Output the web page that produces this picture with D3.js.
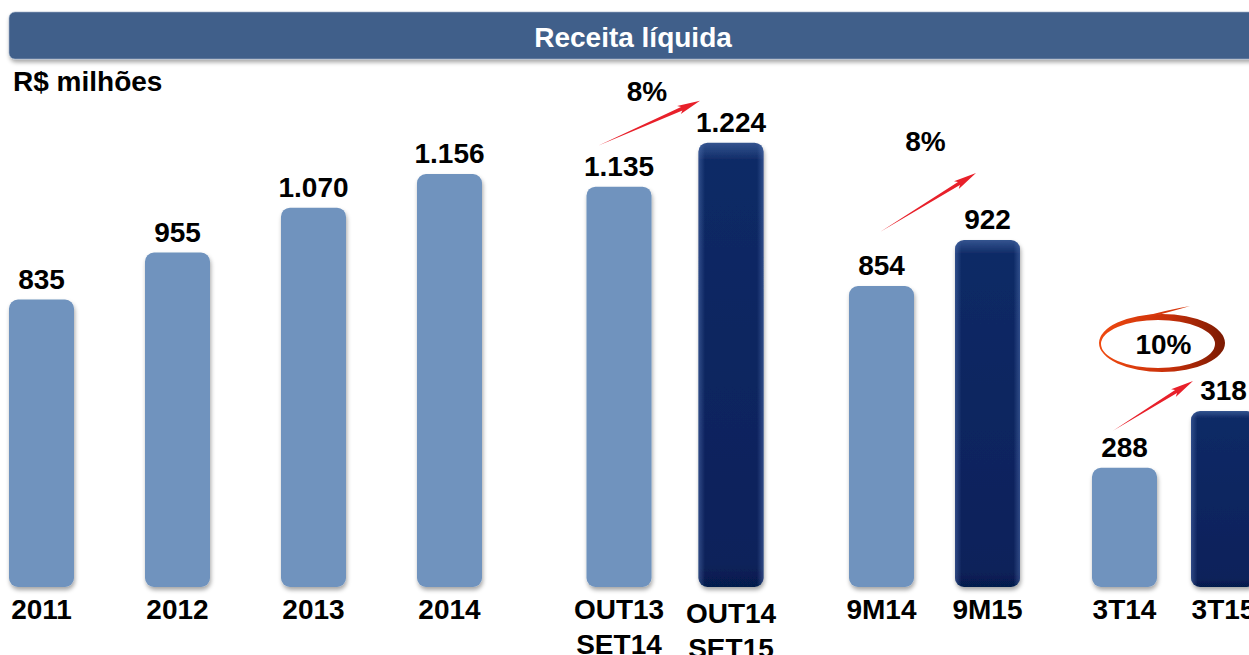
<!DOCTYPE html>
<html>
<head>
<meta charset="utf-8">
<script src="https://cdn.jsdelivr.net/npm/d3@7"></script>
<style>
  html, body { margin: 0; padding: 0; background: #fff; overflow: hidden; }
  text { font-family: "Liberation Sans", Arial, sans-serif; font-weight: bold; }
</style>
</head>
<body>
<div id="chart"></div>
<script>
// data
var annualCats = ["2011", "2012", "2013", "2014"];
var annualVals = [835, 955, 1070, 1156];

var ltmCats = ["OUT13|SET14", "OUT14|SET15"];
var ltmVals = [1135, 1224];

var ytdCats = ["9M14", "9M15"];
var ytdVals = [854, 922];

var qtrCats = ["3T14", "3T15"];
var qtrVals = [288, 318];

var growthLabels = [null, "8%", "8%", "10%"];

var width = 1249,
    height = 655,
    baseline = 587,
    barWidth = 65,
    light = "#6F93BE";

var fmt = d3.formatLocale({decimal: ",", thousands: ".", grouping: [3], currency: ["R$ ", ""]}).format(",d");

// each panel has its own (non zero based) value axis, like the original slide
var panels = [
  {cats: annualCats, vals: annualVals, xr: [41.5, 449.5], dom: [100, 1156], top: 174},
  {cats: ltmCats, vals: ltmVals, xr: [619, 731], dom: [325, 1224], top: 142.7,
   arrow: [-21, -41, -31, -42], pct: [647, 101]},
  {cats: ytdCats, vals: ytdVals, xr: [881.5, 987.5], dom: [409, 922], top: 240,
   arrow: [-1.5, -54, -11.5, -67], pct: [925.5, 151]},
  {cats: qtrCats, vals: qtrVals, xr: [1124.5, 1223.5], dom: [225, 318], top: 411,
   arrow: [-11.5, -37, -30.5, -30], pct: [1163.5, 354], ring: true}
];
var dividers = [525, 806, 1054];

var svg = d3.select("#chart").append("svg")
    .attr("width", width)
    .attr("height", height);

var defs = svg.append("defs");

var shadow = defs.append("filter").attr("id", "shadow")
    .attr("x", "-20%").attr("y", "-20%").attr("width", "140%").attr("height", "140%");
shadow.append("feDropShadow")
    .attr("dx", 1).attr("dy", 3).attr("stdDeviation", 2)
    .attr("flood-color", "#000").attr("flood-opacity", 0.35);

var lineShadow = defs.append("filter").attr("id", "lineShadow")
    .attr("x", "-200%").attr("width", "500%");
lineShadow.append("feDropShadow")
    .attr("dx", 2).attr("dy", 1).attr("stdDeviation", 1)
    .attr("flood-color", "#000").attr("flood-opacity", 0.25);

var darkV = defs.append("linearGradient").attr("id", "darkV")
    .attr("x1", 0).attr("y1", 0).attr("x2", 0).attr("y2", 1);
darkV.append("stop").attr("offset", "0%").attr("stop-color", "#34548F");
darkV.append("stop").attr("offset", "4%").attr("stop-color", "#0F2A66");
darkV.append("stop").attr("offset", "95%").attr("stop-color", "#08215A");
darkV.append("stop").attr("offset", "100%").attr("stop-color", "#061C4C");

var darkH = defs.append("linearGradient").attr("id", "darkH")
    .attr("x1", 0).attr("y1", 0).attr("x2", 1).attr("y2", 0);
darkH.append("stop").attr("offset", "0%").attr("stop-color", "#5A7AB8").attr("stop-opacity", 0.45);
darkH.append("stop").attr("offset", "10%").attr("stop-color", "#5A7AB8").attr("stop-opacity", 0);
darkH.append("stop").attr("offset", "90%").attr("stop-color", "#5A7AB8").attr("stop-opacity", 0);
darkH.append("stop").attr("offset", "100%").attr("stop-color", "#5A7AB8").attr("stop-opacity", 0.45);

var ringGrad = defs.append("linearGradient").attr("id", "ringGrad")
    .attr("x1", 0).attr("y1", 0).attr("x2", 1).attr("y2", 0);
ringGrad.append("stop").attr("offset", "0%").attr("stop-color", "#F04A10");
ringGrad.append("stop").attr("offset", "55%").attr("stop-color", "#C8300A");
ringGrad.append("stop").attr("offset", "100%").attr("stop-color", "#7A1A02");

// title bar
svg.append("rect")
    .attr("x", 9).attr("y", 12)
    .attr("width", 1262).attr("height", 47)
    .attr("rx", 6)
    .attr("fill", "#3F5F8A")
    .attr("stroke", "#9DB0C8").attr("stroke-width", 0.6)
    .attr("filter", "url(#shadow)");

svg.append("text")
    .attr("x", 633).attr("y", 47)
    .attr("text-anchor", "middle")
    .attr("fill", "#fff")
    .style("font-size", "28px")
    .text("Receita líquida");

svg.append("text")
    .attr("x", 13).attr("y", 91)
    .attr("fill", "#000")
    .style("font-size", "28px")
    .text("R$ milhões");

// dashed dividers between panels
svg.selectAll(".divider")
    .data(dividers)
    .enter().append("line")
    .attr("class", "divider")
    .attr("x1", function (d) { return d; })
    .attr("x2", function (d) { return d; })
    .attr("y1", 99).attr("y2", 622)
    .attr("stroke", "#2B2B9E")
    .attr("stroke-width", 1.6)
    .attr("stroke-dasharray", "5,3")
    .attr("filter", "url(#lineShadow)");

function arrowPath(x1, y1, x2, y2) {
    var dx = x2 - x1, dy = y2 - y1,
        L = Math.sqrt(dx * dx + dy * dy),
        ux = dx / L, uy = dy / L,
        nx = -uy, ny = ux,
        hb = L - 20, sw = 1.8, hw = 4.5;
    var p = function (t, w) { return [x1 + ux * t + nx * w, y1 + uy * t + ny * w]; };
    var pts = [p(0, 0), p(hb, sw), p(hb - 3, hw), [x2, y2], p(hb - 3, -hw), p(hb, -sw)];
    return "M" + pts.map(function (q) { return q[0].toFixed(1) + "," + q[1].toFixed(1); }).join("L") + "Z";
}

// closed ellipse as a path, reversed direction for the hole
function ell(ex, ey, rx, ry, rev) {
    var sw = rev ? 0 : 1;
    return "M" + (ex - rx) + "," + ey +
        "A" + rx + "," + ry + " 0 1 " + sw + " " + (ex + rx) + "," + ey +
        "A" + rx + "," + ry + " 0 1 " + sw + " " + (ex - rx) + "," + ey + "Z";
}

panels.forEach(function (pn, pi) {
    var x = d3.scalePoint().domain(pn.cats).range(pn.xr);
    var y = d3.scaleLinear().domain(pn.dom).range([baseline, pn.top]);

    var g = svg.append("g");
    var rows = pn.cats.map(function (c, i) {
        return {cat: c, val: pn.vals[i], dark: pi > 0 && i === 1};
    });

    var bars = g.selectAll(".bar").data(rows).enter().append("g").attr("class", "bar");

    bars.append("rect")
        .attr("x", function (d) { return x(d.cat) - barWidth / 2; })
        .attr("y", function (d) { return y(d.val); })
        .attr("width", barWidth)
        .attr("height", function (d) { return baseline - y(d.val); })
        .attr("rx", 9)
        .attr("fill", function (d) { return d.dark ? "url(#darkV)" : light; })
        .attr("filter", "url(#shadow)");

    bars.filter(function (d) { return d.dark; })
        .append("rect")
        .attr("x", function (d) { return x(d.cat) - barWidth / 2; })
        .attr("y", function (d) { return y(d.val); })
        .attr("width", barWidth)
        .attr("height", function (d) { return baseline - y(d.val); })
        .attr("rx", 9)
        .attr("fill", "url(#darkH)");

    // value labels
    g.selectAll(".val").data(rows).enter().append("text")
        .attr("class", "val")
        .attr("x", function (d) { return x(d.cat); })
        .attr("y", function (d) { return y(d.val) - 11; })
        .attr("text-anchor", "middle")
        .style("font-size", "28px")
        .text(function (d) { return fmt(d.val); });

    // category labels (may be two lines)
    var cl = g.selectAll(".cat").data(rows).enter().append("text")
        .attr("class", "cat")
        .attr("text-anchor", "middle")
        .style("font-size", "28px");
    cl.each(function (d) {
        var lines = d.cat.split("|");
        var t = d3.select(this);
        lines.forEach(function (s, k) {
            t.append("tspan")
                .attr("x", x(d.cat))
                .attr("y", 619 + (d.dark && lines.length > 1 ? 3.5 : 0) + k * 35)
                .text(s);
        });
    });

    if (pn.arrow) {
        var a = pn.arrow,
            c0 = pn.cats[0], c1 = pn.cats[1];
        g.append("path")
            .attr("d", arrowPath(x(c0) + a[0], y(pn.vals[0]) + a[1],
                                 x(c1) + a[2], y(pn.vals[1]) + a[3]))
            .attr("fill", "#E8202A");

        if (pn.ring) {
            var cx = pn.pct[0] - 1.5, cy = pn.pct[1] - 11;
            // outer and inner ellipse offset so the brush stroke is heavier on the right
            g.append("path")
                .attr("d", ell(cx, cy, 63, 29, false) + ell(cx - 4, cy + 1, 57, 24, true))
                .attr("fill", "url(#ringGrad)")
                .attr("fill-rule", "evenodd");
            // brush tail at the top
            g.append("path")
                .attr("d", "M" + (cx - 20) + "," + (cy - 26) +
                    "Q" + (cx + 5) + "," + (cy - 33) + " " + (cx + 28) + "," + (cy - 37) +
                    "Q" + (cx + 8) + "," + (cy - 31) + " " + (cx - 20) + "," + (cy - 24) + "Z")
                .attr("fill", "#D8380C");
        }

        g.append("text")
            .attr("x", pn.pct[0]).attr("y", pn.pct[1])
            .attr("text-anchor", "middle")
            .style("font-size", "28px")
            .text(growthLabels[pi]);
    }
});
</script>
</body>
</html>
